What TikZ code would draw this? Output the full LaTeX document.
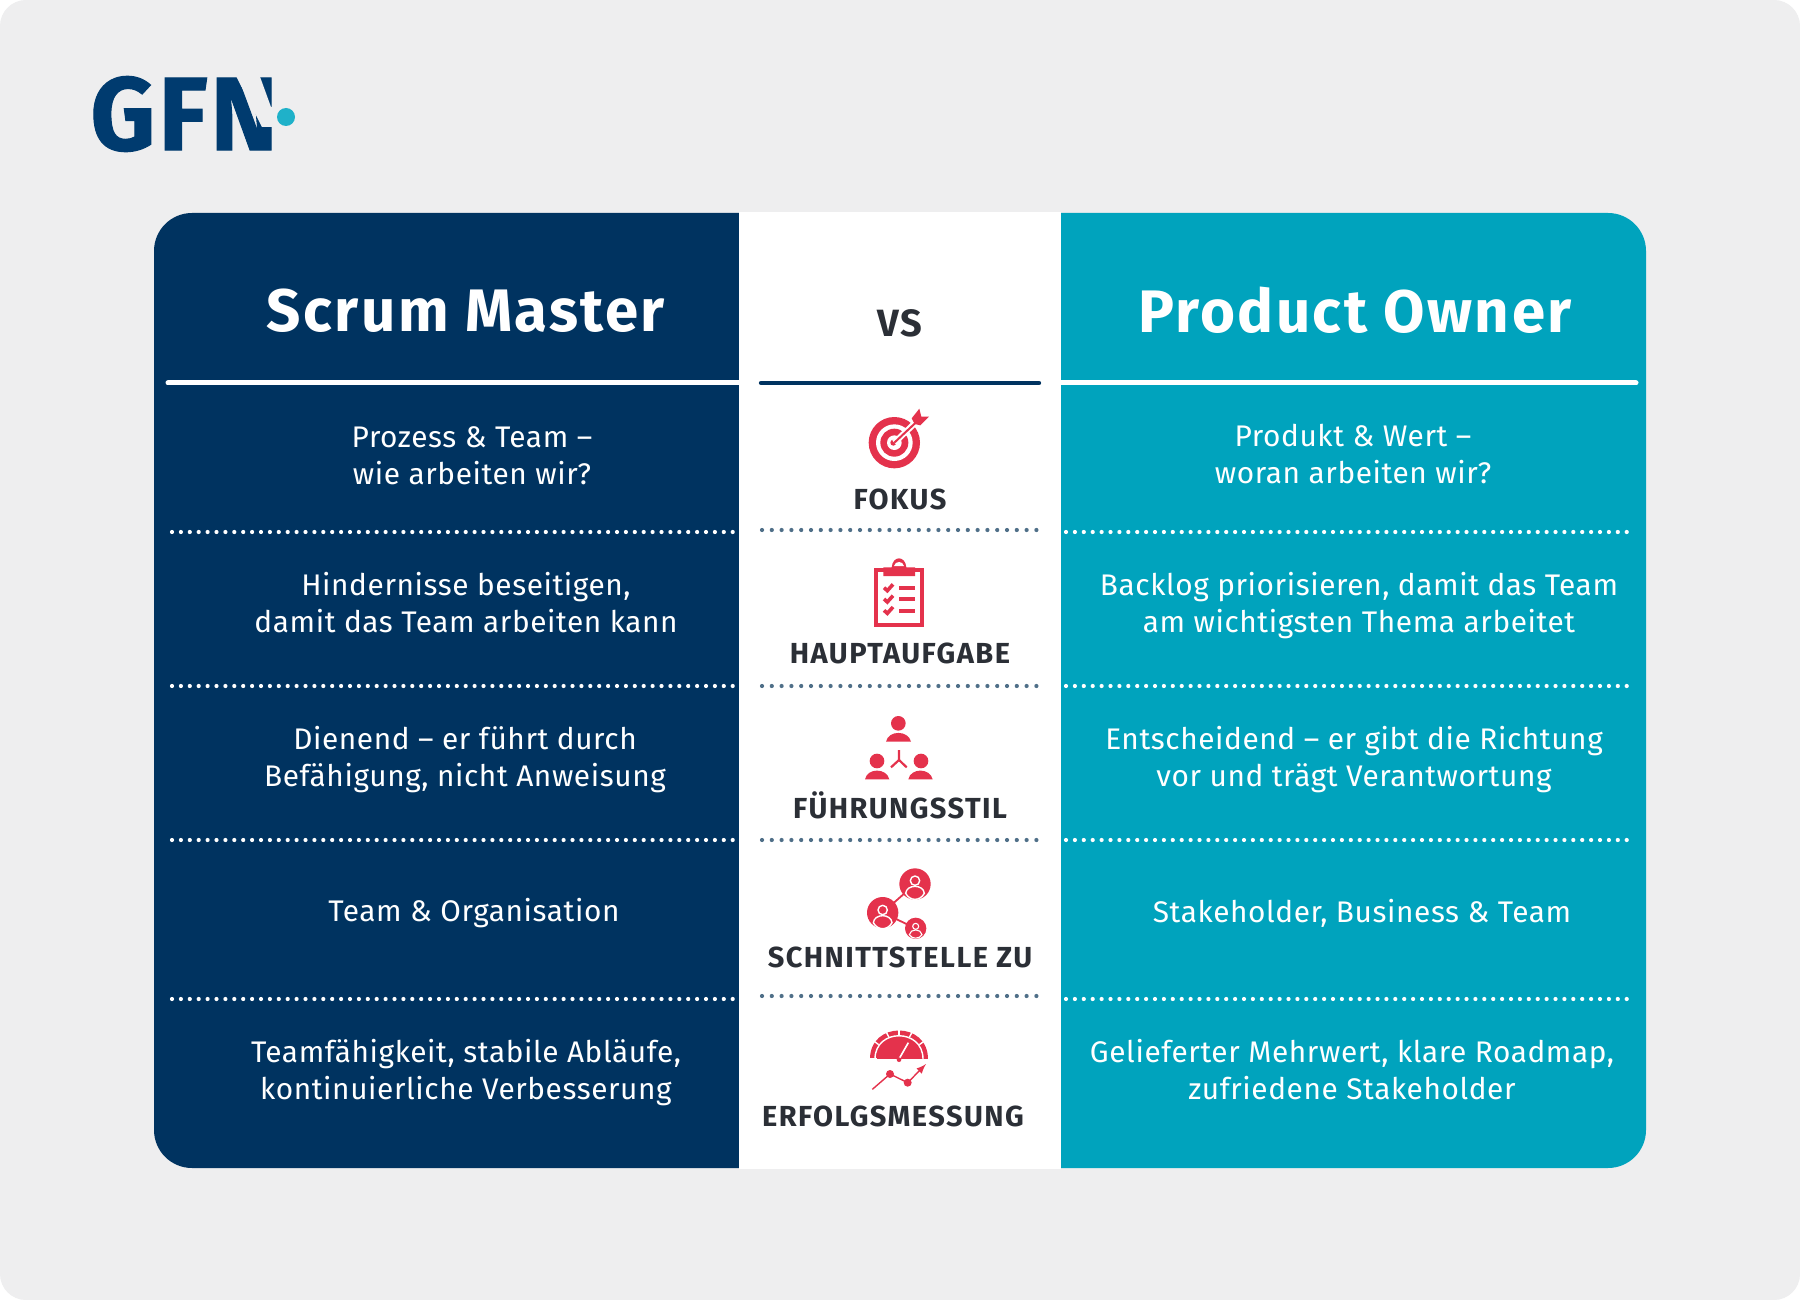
\documentclass[tikz,border=0pt]{standalone}
\usepackage{fontspec}
\setmainfont{Fira Sans}
\newfontfamily\bodyfont[LetterSpace=2]{Fira Sans}
\newfontfamily\headfont[LetterSpace=4]{Fira Sans}
\newfontfamily\labelfont[LetterSpace=5]{Fira Sans}
\newfontfamily\logofont[LetterSpace=3,BoldFeatures={FakeBold=1}]{Fira Sans}
\definecolor{pagegrey}{HTML}{EEEEEF}
\definecolor{navy}{HTML}{003360}
\definecolor{logonavy}{HTML}{003B6F}
\definecolor{petrol}{HTML}{00A3BD}
\definecolor{dotcyan}{HTML}{1FB1C9}
\definecolor{signal}{HTML}{E4324C}
\definecolor{inkdark}{HTML}{2B2F36}
\definecolor{dotgrey}{HTML}{4F6F88}
\tikzset{
  iconA/.style={shift={(740,200)},x=.16667pt,y=-.16667pt},
  iconB/.style={shift={(740,680)},x=.16667pt,y=-.16667pt},
  cell/.style={text=white,align=center,font=\bodyfont\fontsize{14.9}{18.5}\selectfont},
  title/.style={text=white,font=\headfont\bfseries\fontsize{30}{34}\selectfont},
  lab/.style={text=inkdark,font=\labelfont\bfseries\fontsize{14.5}{16}\selectfont},
  dots/.style={draw=#1,line width=2.1pt,line cap=round,dash pattern=on 0pt off 4.45pt},
}
\begin{document}
\begin{tikzpicture}[x=0.5pt,y=-0.5pt]
                    \useasboundingbox (0,0) rectangle (1800,1300);
                    \fill[white] (0,0) rectangle (1800,1300);
                    \fill[pagegrey,rounded corners=13pt] (0,0) rectangle (1800,1300);
                    % logo
                    \node[text=logonavy,font=\logofont\bfseries\fontsize{52}{52}\selectfont,xscale=.97,transform shape,inner sep=0pt] (logo) at (184,114) {GFN};
                    \fill[pagegrey] (235,74) -- (259,74) -- (271,107) -- (280,107) -- (280,127) -- (262,127) -- cycle;
                    \fill[dotcyan] (286,117) circle (9);
                    % panels
                    \fill[navy,rounded corners=19pt] (154,213) rectangle (800,1168);
                    \fill[petrol,rounded corners=19pt] (1000,213) rectangle (1646,1168);
                    \fill[white] (739,212) rectangle (1061,1169);
                    % header
                    \node[title] (SM) at (466,311) {Scrum Master};
                    \node[title] (PO) at (1355,310) {Product Owner};
                    \node[text=inkdark,font=\headfont\bfseries\fontsize{19}{22}\selectfont] (VS) at (900,323) {VS};
                    % left column
                    \begin{scope}[every node/.style={cell}]
                        \node (L1) at (472,456) {Prozess \& Team –\\wie arbeiten wir?};
                        \node (L2) at (466,603) {Hindernisse beseitigen,\\damit das Team arbeiten kann};
                        \node (L3) at (465,760) {Dienend – er führt durch\\Befähigung, nicht Anweisung};
                        \node (L4) at (474,913) {Team \& Organisation};
                        \node (L5) at (466,1073) {Teamfähigkeit, stabile Abläufe,\\kontinuierliche Verbesserung};
                    \end{scope}
                    % right column
                    \begin{scope}[every node/.style={cell}]
                        \node (R1) at (1353,454) {Produkt \& Wert –\\woran arbeiten wir?};
                        \node (R2) at (1359,606) {Backlog priorisieren, damit das Team\\am wichtigsten Thema arbeitet};
                        \node (R3) at (1354,760) {Entscheidend – er gibt die Richtung\\vor und trägt Verantwortung};
                        \node (R4) at (1362,913) {Stakeholder, Business \& Team};
                        \node (R5) at (1352,1070) {Gelieferter Mehrwert, klare Roadmap,\\zufriedene Stakeholder};
                    \end{scope}
                    % middle labels
                    \begin{scope}[every node/.style={lab}]
                        \node (M1) at (900,499) {FOKUS};
                        \node (M2) at (900,653) {HAUPTAUFGABE};
                        \node (M3) at (900,805) {FÜHRUNGSSTIL};
                        \node (M4) at (900,957) {SCHNITTSTELLE ZU};
                        \node (M5) at (893,1116) {ERFOLGSMESSUNG};
                    \end{scope}
                    % rules
                    \coordinate (a0) at (168,383); \coordinate (b0) at (739,383);
                    \coordinate (c0) at (761,383); \coordinate (d0) at (1039,383);
                    \coordinate (e0) at (1061,383); \coordinate (f0) at (1636,383);
                    \coordinate (a1) at (172,532); \coordinate (b1) at (734,532);
                    \coordinate (c1) at (762,530); \coordinate (d1) at (1038,530);
                    \coordinate (e1) at (1066,532); \coordinate (f1) at (1628,532);
                    \coordinate (a2) at (172,686); \coordinate (b2) at (734,686);
                    \coordinate (c2) at (762,686); \coordinate (d2) at (1038,686);
                    \coordinate (e2) at (1066,686); \coordinate (f2) at (1628,686);
                    \coordinate (a3) at (172,840); \coordinate (b3) at (734,840);
                    \coordinate (c3) at (762,840); \coordinate (d3) at (1038,840);
                    \coordinate (e3) at (1066,840); \coordinate (f3) at (1628,840);
                    \coordinate (a4) at (172,999); \coordinate (b4) at (734,999);
                    \coordinate (c4) at (762,996); \coordinate (d4) at (1038,996);
                    \coordinate (e4) at (1066,999); \coordinate (f4) at (1628,999);
                    \begin{scope}[every edge/.style={draw=white,line width=2.5pt,line cap=round}]
                        \draw (a0) edge (b0);
                        \draw (e0) edge (f0);
                    \end{scope}
                    \draw[draw=navy,line width=2.2pt,line cap=round] (c0) -- (d0);
                    \begin{scope}[every edge/.style={dots=white}]
                        \draw (a1) edge (b1);
                        \draw (a2) edge (b2);
                        \draw (a3) edge (b3);
                        \draw (a4) edge (b4);
                        \draw (e1) edge (f1);
                        \draw (e2) edge (f2);
                        \draw (e3) edge (f3);
                        \draw (e4) edge (f4);
                    \end{scope}
                    \begin{scope}[every edge/.style={dots=dotgrey,dash pattern=on 0pt off 4.9pt}]
                        \draw (c1) edge (d1);
                        \draw (c2) edge (d2);
                        \draw (c3) edge (d3);
                        \draw (c4) edge (d4);
                    \end{scope}
                    % target
                    \begin{scope}[iconA]
                        \fill[signal] (463,728) circle (77);
                        \fill[white] (463,728) circle (55);
                        \fill[signal] (463,728) circle (42);
                        \fill[white] (463,728) circle (22);
                        \fill[signal] (460,728) circle (9);
                        \draw[white,line width=3pt] (463,728) -- (540,655);
                        \draw[signal,line width=1pt] (463,728) -- (525,670);
                        \fill[signal] (515,655) -- (538,626) -- (544,650) -- (567,650) -- (541,676) -- (524,672) -- cycle;
                    \end{scope}
                    % clipboard
                    \begin{scope}[iconA]
                        \draw[signal,line width=2pt] (408,1110) rectangle (546,1274);
                        \fill[signal] (430,1128) -- (430,1102) -- (455,1102) .. controls (458,1066) and (496,1066) .. (499,1102) -- (525,1102) -- (525,1128) -- cycle;
                        \fill[white] (462,1098) .. controls (465,1082) and (489,1082) .. (492,1098) -- cycle;
                        \draw[signal,line width=1.8pt] (432,1163) -- (442,1172) -- (459,1153);
                        \draw[signal,line width=1.8pt] (432,1197) -- (442,1206) -- (459,1187);
                        \draw[signal,line width=1.8pt] (432,1231) -- (442,1240) -- (459,1221);
                        \draw[signal,line width=2pt] (478,1163) -- (525,1163);
                        \draw[signal,line width=2pt] (478,1197) -- (525,1197);
                        \draw[signal,line width=2pt] (478,1232) -- (525,1232);
                    \end{scope}
                    % people
                    \begin{scope}[iconB]
                        \fill[signal] (475,130) circle (22);
                        \fill[signal] (438,185) .. controls (445,150) and (505,150) .. (513,185) -- cycle;
                        \fill[signal] (411,243) circle (22);
                        \fill[signal] (375,298) .. controls (382,263) and (440,263) .. (448,298) -- cycle;
                        \fill[signal] (543,243) circle (22);
                        \fill[signal] (505,298) .. controls (512,263) and (570,263) .. (578,298) -- cycle;
                        \draw[signal,line width=1.1pt] (477,210) -- (477,240) -- (453,262);
                        \draw[signal,line width=1.1pt] (477,240) -- (500,262);
                    \end{scope}
                    % network
                    \begin{scope}[iconB]
                        \draw[signal,line width=.9pt] (428,698) -- (525,612);
                        \draw[signal,line width=.9pt] (428,698) -- (527,745);
                        \fill[signal] (525,612) circle (47);
                        \fill[signal] (428,698) circle (47);
                        \fill[signal] (527,745) circle (32);
                        \draw[white,line width=.7pt] (525,602) circle (14);
                        \draw[white,line width=.7pt] (497,640) .. controls (500,612) and (550,612) .. (553,640) .. controls (540,664) and (510,664) .. (497,640) -- cycle;
                        \draw[white,line width=.7pt] (428,690) circle (14);
                        \draw[white,line width=.7pt] (400,728) .. controls (403,700) and (453,700) .. (456,728) .. controls (443,752) and (413,752) .. (400,728) -- cycle;
                        \draw[white,line width=.55pt] (527,739) circle (9);
                        \draw[white,line width=.55pt] (508,764) .. controls (511,745) and (543,745) .. (546,764) .. controls (538,778) and (516,778) .. (508,764) -- cycle;
                    \end{scope}
                    % gauge
                    \begin{scope}[iconB]
                        \fill[signal] (389,1137) .. controls (389,1022) and (565,1022) .. (565,1137) -- cycle;
                        \draw[white,line width=.7pt] (405,1137) .. controls (405,1044) and (549,1044) .. (549,1137);
                        \draw[white,line width=.7pt] (410,1137) -- (389,1137);
                        \draw[white,line width=.7pt] (416,1094) -- (400,1082);
                        \draw[white,line width=.7pt] (447,1072) -- (437,1053);
                        \draw[white,line width=.7pt] (477,1068) -- (477,1046);
                        \draw[white,line width=.7pt] (508,1072) -- (518,1053);
                        \draw[white,line width=.7pt] (538,1094) -- (554,1082);
                        \draw[white,line width=.8pt] (477,1137) -- (505,1088);
                        \fill[signal] (477,1139) circle (7);
                        \draw[signal,line width=.7pt,-latex] (397,1228) -- (450,1182) -- (503,1208) -- (558,1152);
                        \fill[signal] (450,1182) circle (12);
                        \fill[signal] (503,1208) circle (12);
                    \end{scope}
                \end{tikzpicture}
\end{document}
